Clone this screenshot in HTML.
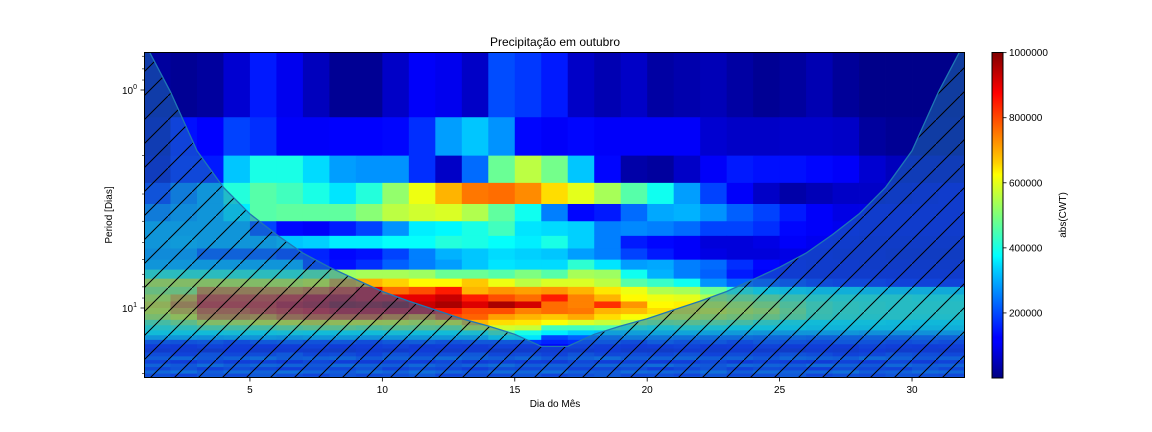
<!DOCTYPE html>
<html><head><meta charset="utf-8"><style>
html,body{margin:0;padding:0;background:#fff;width:1152px;height:432px;overflow:hidden}
svg{display:block;font-family:"Liberation Sans","DejaVu Sans",sans-serif}
</style></head><body>
<svg id="chart" width="1152" height="432" viewBox="0 0 1152 432" xmlns="http://www.w3.org/2000/svg">
<defs>
<pattern id="hatch" patternUnits="userSpaceOnUse" width="24" height="24">
<line x1="-2" y1="26" x2="26" y2="-2" stroke="#000" stroke-width="1"/>
</pattern>
<clipPath id="plotclip"><rect x="144" y="52" width="821" height="326"/></clipPath>
<linearGradient id="jetgrad" x1="0" y1="1" x2="0" y2="0">
<stop offset="0" stop-color="#000080"/><stop offset="0.11" stop-color="#0000ff"/><stop offset="0.125" stop-color="#0000ff"/>
<stop offset="0.34" stop-color="#00d4ff"/><stop offset="0.375" stop-color="#00ffff"/><stop offset="0.5" stop-color="#7dff7a"/>
<stop offset="0.625" stop-color="#ffff00"/><stop offset="0.66" stop-color="#ffd000"/><stop offset="0.875" stop-color="#ff0000"/><stop offset="1" stop-color="#800000"/>
</linearGradient>
</defs>
<text x="555" y="46" font-size="12" text-anchor="middle">Precipitação em outubro</text>
<g id="cells" clip-path="url(#plotclip)"></g>
<g id="coi" clip-path="url(#plotclip)"></g>
<rect x="144.5" y="52.5" width="820" height="325" fill="none" stroke="#000" stroke-width="1"/>
<g id="xaxis"></g>
<g id="yaxis"></g>
<text x="555" y="407" font-size="10" text-anchor="middle">Dia do Mês</text>
<text x="112" y="215" font-size="10" text-anchor="middle" transform="rotate(-90 112 215)">Period [Dias]</text>
<rect x="992" y="52.5" width="11" height="325.5" fill="url(#jetgrad)" stroke="#000" stroke-width="1"/>
<g id="cbaxis"></g>
<text x="1066" y="215" font-size="10" text-anchor="middle" transform="rotate(-90 1066 215)">abs(CWT)</text>
</svg>
<script>
const days = [1,2,3,4,5,6,7,8,9,10,11,12,13,14,15,16,17,18,19,20,21,22,23,24,25,26,27,28,29,30,31];
const xTicks = [5,10,15,20,25,30];
const cbTicks = [200000,400000,600000,800000,1000000];
const coiDays = [1,2,3,4,5,6,7,8,9,10,11,12,13,14,15,16,17,18,19,20,21,22,23,24,25,26,27,28,29,30,31,32];
const coiPeriods = [0.6,1.02,1.9,2.8,3.7,4.6,5.6,6.5,7.4,8.4,9.3,10.2,11.2,12.1,13.2,15.0,15.0,13.2,12.1,11.2,10.2,9.3,8.4,7.4,6.5,5.6,4.6,3.7,2.8,1.9,1.02,0.6];
// abs(CWT) in units of 1e5; rows = scale index, columns = days
const power = [
[0.3,0.2,0.3,0.8,1.5,1.1,0.6,0.2,0.2,0.7,1.2,1.1,0.7,2.0,1.8,1.5,0.7,0.5,0.7,0.35,0.45,0.55,0.35,0.2,0.3,0.5,0.25,0.1,0.1,0.1,0.1],
[0.5,1.4,1.25,1.9,1.7,1.2,1.2,1.25,1.25,1.3,1.7,2.8,3.2,2.7,1.3,1.2,1.3,1.2,1.2,1.2,1.2,0.8,0.7,0.7,0.75,0.75,0.7,0.3,0.2,0.2,0.2],
[0.7,1.5,1.5,3.2,4.0,4.0,3.4,2.8,2.7,2.7,1.7,0.7,2.3,4.8,5.6,4.9,3.2,1.3,0.4,0.3,0.7,1.2,1.5,1.4,1.4,1.3,1.2,0.8,0.6,0.6,0.6],
[1.7,2.5,3.0,4.1,4.6,4.4,4.0,3.5,4.1,5.2,6.1,7.0,7.6,7.7,7.4,6.6,6.0,5.4,4.6,3.9,2.8,1.9,1.2,0.7,0.4,0.55,0.7,0.7,0.8,0.9,1.0],
[2.5,2.8,3.0,3.6,4.6,4.7,4.7,4.7,5.1,5.6,5.8,5.9,5.5,4.7,3.9,2.5,1.3,1.5,2.3,2.9,3.0,2.7,2.2,1.9,1.5,1.2,1.0,1.0,1.0,1.0,1.0],
[3.0,3.0,3.0,3.0,1.9,1.3,1.2,1.5,1.9,2.7,3.6,3.7,4.0,4.4,3.5,3.4,3.3,2.5,2.6,2.5,2.3,1.9,1.9,1.7,1.3,1.2,1.1,1.0,1.0,1.0,1.0],
[3.0,3.1,3.0,3.0,3.0,3.2,3.3,3.6,3.6,3.8,3.8,4.1,4.0,3.8,3.6,4.0,3.3,2.5,1.5,1.3,1.2,0.9,0.9,1.0,1.2,1.1,1.0,0.9,0.9,0.9,0.9],
[2.8,2.8,2.0,2.0,2.0,1.7,1.6,1.3,1.4,1.9,2.5,3.0,3.2,3.4,3.3,3.2,2.8,2.5,1.9,1.5,1.2,1.0,0.9,0.9,1.0,1.0,0.9,0.9,0.8,0.8,0.8],
[3.0,3.0,3.0,3.0,3.0,3.0,1.7,1.4,1.7,2.2,2.5,2.8,3.2,3.5,3.4,3.4,4.2,3.5,2.8,2.9,2.5,2.3,1.7,1.3,1.1,1.0,1.0,0.9,0.9,0.9,0.9],
[4.3,4.3,4.3,4.3,4.3,4.3,4.8,5.3,5.4,5.4,5.3,4.8,4.8,4.6,5.0,4.6,5.4,5.3,3.9,3.0,2.5,2.2,1.5,1.2,1.1,1.0,1.0,1.0,1.0,1.0,1.0],
[6.0,6.0,6.0,6.0,6.0,6.0,6.2,7.2,7.0,6.7,6.3,6.3,6.8,6.1,5.6,5.9,5.9,5.6,4.6,4.3,3.9,2.7,2.2,2.0,1.8,1.6,1.5,1.5,1.4,1.4,1.4],
[5.5,5.5,7.5,7.5,7.5,7.5,7.8,8.3,9.0,7.7,8.0,8.5,7.0,7.3,7.2,7.3,7.0,6.5,6.1,5.5,5.4,4.8,4.2,3.8,3.6,3.5,3.5,3.4,3.4,3.4,3.4],
[6.0,7.0,8.3,8.3,8.3,8.5,9.0,9.2,9.0,9.0,9.0,9.3,8.5,8.0,7.7,8.5,7.5,7.0,6.3,6.1,6.0,5.5,5.2,5.0,4.6,4.3,4.2,4.2,4.2,4.1,4.1],
[6.5,7.5,8.5,8.5,8.5,9.0,9.2,9.6,9.5,9.7,9.3,9.6,9.1,9.6,9.2,7.7,7.5,8.3,7.3,6.3,6.4,6.0,5.8,5.5,5.0,4.6,4.4,4.3,4.2,4.2,4.2],
[6.2,7.0,8.0,8.0,8.3,8.5,8.7,9.0,9.0,9.0,9.0,8.5,8.0,8.0,7.5,7.7,7.6,7.0,6.9,6.6,6.5,6.3,6.0,5.8,5.2,4.6,4.4,4.3,4.2,4.2,4.2],
[5.8,6.2,7.5,7.5,7.3,7.8,8.0,8.0,8.0,7.6,7.3,8.0,7.8,7.2,7.0,6.8,7.1,6.6,6.2,6.0,6.0,5.8,5.6,5.4,5.0,4.5,4.3,4.2,4.2,4.1,4.1],
[4.8,5.3,6.0,6.0,6.2,6.3,6.5,6.3,6.3,6.2,6.0,6.3,7.0,6.6,6.5,6.2,5.9,5.7,5.4,5.1,5.2,5.0,4.8,4.4,4.0,3.8,3.8,3.8,3.7,3.7,3.7],
[4.2,4.4,4.8,4.8,4.8,5.0,5.2,5.2,5.0,5.2,5.2,5.0,5.9,5.8,5.7,4.4,4.4,4.5,4.2,4.0,4.2,4.0,3.8,3.8,3.7,3.6,3.6,3.6,3.6,3.5,3.5],
[3.8,3.8,3.8,3.9,3.8,3.9,3.8,3.8,3.8,3.9,3.8,3.8,4.0,4.6,4.0,3.6,3.3,3.2,3.2,3.3,3.3,3.2,3.1,3.0,3.0,3.0,3.0,2.9,2.9,2.9,2.9],
[3.0,3.0,2.9,3.0,3.0,2.9,3.0,3.0,2.9,3.0,3.0,3.0,3.0,3.6,3.5,1.9,2.2,2.2,2.5,2.4,2.3,2.2,2.2,2.1,2.1,2.0,2.0,2.0,2.0,2.0,2.0],
[1.8,1.7,1.8,1.6,1.8,1.9,1.7,1.8,1.6,1.8,1.9,1.7,1.8,1.8,1.8,1.6,1.7,1.8,1.6,1.9,1.7,1.8,1.6,1.8,1.7,1.6,1.8,1.7,1.6,1.7,1.6],
[1.3,1.2,1.4,1.3,1.2,1.3,1.4,1.2,1.3,1.4,1.2,1.3,1.2,1.4,1.3,1.2,1.4,1.3,1.2,1.3,1.4,1.2,1.3,1.4,1.2,1.3,1.2,1.4,1.3,1.2,1.3],
[1.0,1.1,0.9,1.2,1.0,1.1,1.0,0.9,1.1,1.0,1.2,1.0,1.1,0.9,1.0,1.1,1.0,1.2,1.0,0.9,1.1,1.0,1.1,1.0,0.9,1.1,1.0,1.2,1.0,1.1,1.0],
[1.6,1.4,1.7,1.5,1.6,1.8,1.5,1.6,1.4,1.7,1.5,1.6,1.8,1.5,1.6,1.4,1.7,1.5,1.6,1.5,1.7,1.4,1.6,1.5,1.7,1.6,1.4,1.5,1.7,1.6,1.5],
[1.9,2.1,1.8,2.0,2.2,1.9,2.0,2.1,1.8,2.0,1.9,2.2,2.0,1.9,2.1,1.8,2.0,2.2,1.9,2.0,2.1,1.9,2.0,1.8,2.1,2.0,1.9,2.2,2.0,1.8,2.0],
[1.4,1.2,1.5,1.3,1.4,1.2,1.5,1.3,1.2,1.4,1.3,1.5,1.2,1.4,1.3,1.2,1.5,1.3,1.4,1.2,1.3,1.5,1.2,1.4,1.3,1.2,1.4,1.3,1.5,1.2,1.4],
[2.0,1.8,2.2,1.9,2.1,2.0,1.8,2.2,2.0,1.9,2.1,1.8,2.0,2.2,1.9,2.0,1.8,2.1,2.0,2.2,1.9,1.8,2.1,2.0,1.9,2.2,2.0,1.8,2.1,1.9,2.0],
[1.5,1.7,1.4,1.6,1.5,1.3,1.6,1.5,1.7,1.4,1.6,1.5,1.3,1.6,1.5,1.7,1.4,1.5,1.6,1.3,1.5,1.7,1.4,1.6,1.5,1.3,1.6,1.5,1.4,1.7,1.5],
[2.1,2.3,1.9,2.2,2.0,2.3,2.1,1.9,2.2,2.0,2.3,2.1,1.9,2.2,2.1,2.3,2.0,1.9,2.2,2.1,2.0,2.3,1.9,2.2,2.0,2.1,2.3,1.9,2.0,2.2,2.1],
[1.6,1.4,1.7,1.5,1.8,1.6,1.4,1.7,1.5,1.6,1.8,1.4,1.6,1.5,1.7,1.4,1.6,1.8,1.5,1.6,1.4,1.7,1.5,1.6,1.8,1.4,1.6,1.5,1.7,1.6,1.5],
[2.2,2.0,2.3,2.1,2.2,2.0,2.4,2.1,2.2,2.3,2.0,2.2,2.1,2.3,2.0,2.2,2.4,2.1,2.0,2.2,2.3,2.1,2.2,2.0,2.1,2.3,2.2,2.0,2.1,2.2,2.0]
];
const VMAX = 10.02;
const NS = "http://www.w3.org/2000/svg";
function xScale(d){ return 144 + (d - 1) * (821 / 31); }
function yScale(p){ return 90 + 218 * Math.log10(p); }
function cbScale(v){ return 378 - (v / (VMAX * 1e5)) * 326; }
function clamp(v){ return Math.max(0, Math.min(1, v)); }
function jet(v){
  const t = clamp(v / VMAX);
  const r = clamp(1.5 - Math.abs(4*t - 3)), g = clamp(1.5 - Math.abs(4*t - 2)), b = clamp(1.5 - Math.abs(4*t - 1));
  return `rgb(${Math.round(r*255)},${Math.round(g*255)},${Math.round(b*255)})`;
}
function mk(tag, attrs, parent){
  const e = document.createElementNS(NS, tag);
  for (const k in attrs) e.setAttribute(k, attrs[k]);
  parent.appendChild(e);
  return e;
}
const cells = document.getElementById('cells');
power.forEach((row, i) => {
  const y0 = yScale((i + 1) * 2 / 3), y1 = yScale((i + 2) * 2 / 3);
  row.forEach((v, j) => {
    const x0 = xScale(days[j]), x1 = xScale(days[j] + 1);
    const r = mk('rect', {x: x0, y: y0, width: x1 - x0 + 0.4, height: y1 - y0 + 0.4, fill: jet(v)}, cells);
    
    
  });
});
const coi = document.getElementById('coi');
let pts = coiDays.map((d, i) => `${xScale(d).toFixed(1)},${yScale(coiPeriods[i]).toFixed(1)}`);
const poly = pts.join(' ') + ` ${xScale(32)},400 ${xScale(1)},400`;
const fillPoly = mk('polygon', {points: poly, fill: '#1f77b4', 'fill-opacity': 0.5}, coi);


const hatchPoly = mk('polygon', {points: poly, fill: 'url(#hatch)'}, coi);


const coiLine = mk('polyline', {points: pts.join(' '), fill: 'none', stroke: '#1f77b4', 'stroke-width': 1.3}, coi);


const xa = document.getElementById('xaxis');
xTicks.forEach(t => {
  const x = xScale(t);
  const l = mk('line', {x1: x, y1: 378, x2: x, y2: 381.5, stroke: '#000', 'stroke-width': 0.8}, xa);
  
  
  const tx = mk('text', {x: x, y: 393, 'font-size': 10, 'text-anchor': 'middle'}, xa);
  tx.textContent = t;
  
  
});
const ya = document.getElementById('yaxis');
[1, 10].forEach((p, k) => {
  const y = yScale(p);
  const l = mk('line', {x1: 140.5, y1: y, x2: 144, y2: y, stroke: '#000', 'stroke-width': 0.8}, ya);
  
  
  const tx = mk('text', {x: 137, y: y + 4, 'font-size': 10, 'text-anchor': 'end'}, ya);
  tx.innerHTML = '10<tspan dy="-5" font-size="7">' + k + '</tspan>';
  
  
});
[0.7,0.8,0.9,2,3,4,5,6,7,8,9,20].forEach(p => {
  const y = yScale(p);
  const l = mk('line', {x1: 142, y1: y, x2: 144, y2: y, stroke: '#000', 'stroke-width': 0.6}, ya);
  
  
});
const cb = document.getElementById('cbaxis');
cbTicks.forEach(v => {
  const y = cbScale(v);
  const l = mk('line', {x1: 1003, y1: y, x2: 1006.5, y2: y, stroke: '#000', 'stroke-width': 0.8}, cb);
  
  
  const tx = mk('text', {x: 1009, y: y + 3.5, 'font-size': 10}, cb);
  tx.textContent = v;
  
  
});
</script>
</body></html>
